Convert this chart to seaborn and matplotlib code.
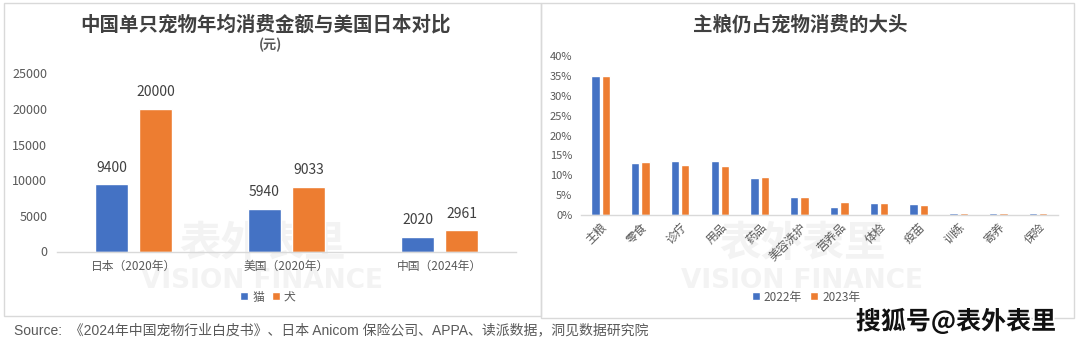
import matplotlib
matplotlib.use("Agg")
import matplotlib.pyplot as plt
import matplotlib.patheffects as pe
from matplotlib.patches import Rectangle
from matplotlib.ticker import FuncFormatter, MultipleLocator
import pandas as pd
import seaborn as sns

# ---- data: annual spend per pet (yuan) ----
regions = ["日本（2020年）", "美国（2020年）", "中国（2024年）"]
cat_spend = [9400, 5940, 2020]
dog_spend = [20000, 9033, 2961]
pet_labels = ["猫", "犬"]

# ---- data: share of pet consumption by category (%) ----
items = ["主粮", "零食", "诊疗", "用品", "药品", "美容洗护", "营养品", "体检", "疫苗", "训练", "寄养", "保险"]
share_2022 = [35.0, 13.0, 13.6, 13.6, 9.3, 4.6, 2.1, 2.9, 2.8, 0.5, 0.5, 0.5]
share_2023 = [35.0, 13.4, 12.6, 12.4, 9.6, 4.5, 3.3, 3.1, 2.5, 0.5, 0.5, 0.5]
year_labels = ["2022年", "2023年"]

BLUE = "#4472C4"
ORANGE = "#ED7D31"
TICK = "#595959"
DARK = "#404040"
LINE = "#d9d9d9"

sns.set_theme(style="white")
plt.rcParams["font.family"] = ["Noto Sans CJK SC", "DejaVu Sans"]

W, H = 1080, 343
fig = plt.figure(figsize=(W / 100, H / 100), dpi=100)
fig.patch.set_facecolor("white")


def fx(px):
    return px / W


def fy(py):
    return (H - py) / H


# panel frames
fig.add_artist(Rectangle((fx(4), fy(316)), fx(541) - fx(4), fy(3) - fy(316),
                         transform=fig.transFigure, fill=False, edgecolor=LINE, lw=1.0))
fig.add_artist(Rectangle((fx(541), fy(318)), fx(1074) - fx(541), fy(3) - fy(318),
                         transform=fig.transFigure, fill=False, edgecolor=LINE, lw=1.0))

# faint brand marks, kept behind both chart areas
for cx in (262, 802):
    fig.text(fx(cx), fy(244), "表外表里", ha="center", va="center", fontsize=30,
             fontweight="bold", color="#f3f3f3", zorder=-5)
    fig.text(fx(cx), fy(281), "VISION FINANCE", ha="center", va="center", fontsize=19,
             fontweight="bold", color="#f3f3f3", zorder=-5, family="DejaVu Sans")


def style_axis(ax):
    for s in ("top", "right", "left"):
        ax.spines[s].set_visible(False)
    ax.spines["bottom"].set_color(LINE)
    ax.spines["bottom"].set_linewidth(1.0)
    ax.set_facecolor("none")
    ax.tick_params(axis="both", length=0, colors=TICK)
    ax.set_xlabel("")
    ax.set_ylabel("")


# ---------------- left chart ----------------
axL = fig.add_axes([fx(57), fy(251.5), fx(516) - fx(57), fy(73.3) - fy(251.5)])
dfL = pd.DataFrame({
    "region": regions * 2,
    "value": cat_spend + dog_spend,
    "pet": [pet_labels[0]] * len(regions) + [pet_labels[1]] * len(regions),
})
sns.barplot(data=dfL, x="region", y="value", hue="pet", order=regions, hue_order=pet_labels,
            palette=[BLUE, ORANGE], width=0.575, gap=0.23, saturation=1, ax=axL, errorbar=None)
style_axis(axL)
axL.set_ylim(0, 25000)
axL.yaxis.set_major_locator(MultipleLocator(5000))
axL.tick_params(axis="y", labelsize=9, pad=7)
axL.tick_params(axis="x", labelsize=8.5, pad=6)
for c in axL.containers:
    axL.bar_label(c, fmt="{:.0f}", padding=7, fontsize=10, color=DARK)
h, l = axL.get_legend_handles_labels()
axL.legend(h, l, loc="center", bbox_to_anchor=(fx(268), fy(297)), bbox_transform=fig.transFigure,
           ncol=2, frameon=False, fontsize=8.5, handlelength=0.65, handleheight=0.65,
           handletextpad=0.35, columnspacing=0.7, labelcolor=TICK)
fig.text(fx(266), fy(25), "中国单只宠物年均消费金额与美国日本对比", ha="center", va="center",
         fontsize=14, fontweight="bold", color=DARK)
fig.text(fx(270), fy(45), "(元)", ha="center", va="center", fontsize=9.5,
         fontweight="bold", color=TICK)

# ---------------- right chart ----------------
axR = fig.add_axes([fx(580.7), fy(215), fx(1058) - fx(580.7), fy(56) - fy(215)])
dfR = pd.DataFrame({
    "item": items * 2,
    "share": share_2022 + share_2023,
    "year": [year_labels[0]] * len(items) + [year_labels[1]] * len(items),
})
sns.barplot(data=dfR, x="item", y="share", hue="year", order=items, hue_order=year_labels,
            palette=[BLUE, ORANGE], width=0.52, gap=0.19, saturation=1, ax=axR, errorbar=None)
style_axis(axR)
axR.set_ylim(0, 40)
axR.yaxis.set_major_locator(MultipleLocator(5))
axR.yaxis.set_major_formatter(FuncFormatter(lambda v, _: f"{v:.0f}%"))
axR.tick_params(axis="y", labelsize=8, pad=6)
axR.tick_params(axis="x", labelsize=8.5, pad=4)
for lab in axR.get_xticklabels():
    lab.set_rotation(45)
    lab.set_ha("right")
    lab.set_rotation_mode("anchor")
h, l = axR.get_legend_handles_labels()
axR.legend(h, l, loc="center", bbox_to_anchor=(fx(806), fy(297)), bbox_transform=fig.transFigure,
           ncol=2, frameon=False, fontsize=8.5, handlelength=0.65, handleheight=0.65,
           handletextpad=0.35, columnspacing=0.7, labelcolor=TICK)
fig.text(fx(800), fy(25), "主粮仍占宠物消费的大头", ha="center", va="center",
         fontsize=14, fontweight="bold", color=DARK)

# ---------------- footer ----------------
fig.text(fx(14), fy(330), "Source:  《2024年中国宠物行业白皮书》、日本 Anicom 保险公司、APPA、读派数据，洞见数据研究院",
         ha="left", va="center", fontsize=10, color=TICK,
         family=["Liberation Sans", "Noto Sans CJK SC"])
fig.text(fx(1056), fy(321), "搜狐号@表外表里", ha="right", va="center", fontsize=18,
         fontweight="bold", color="#111111",
         path_effects=[pe.withStroke(linewidth=2.5, foreground="white")])

fig.savefig("out.png", dpi=100, facecolor="white")
